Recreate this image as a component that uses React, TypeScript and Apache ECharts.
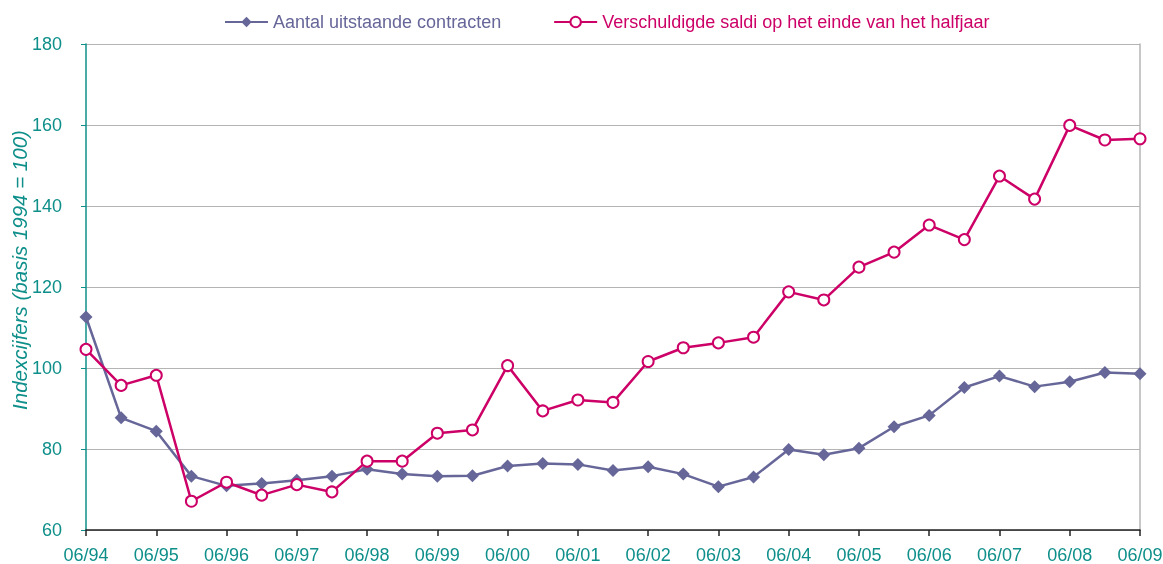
import React, { useEffect, useRef } from "react";
import * as echarts from "echarts";

const categories = [
  "06/94", "12/94", "06/95", "12/95", "06/96", "12/96", "06/97", "12/97",
  "06/98", "12/98", "06/99", "12/99", "06/00", "12/00", "06/01", "12/01",
  "06/02", "12/02", "06/03", "12/03", "06/04", "12/04", "06/05", "12/05",
  "06/06", "12/06", "06/07", "12/07", "06/08", "12/08", "06/09",
];

const contracten = [
  112.6, 87.7, 84.4, 73.3, 70.9, 71.5, 72.3, 73.3, 75.0, 73.8, 73.3, 73.4,
  75.8, 76.4, 76.2, 74.7, 75.6, 73.8, 70.7, 73.1, 79.9, 78.6, 80.2, 85.5,
  88.3, 95.2, 98.0, 95.4, 96.6, 98.9, 98.6,
];

const saldi = [
  104.6, 95.7, 98.2, 67.1, 71.8, 68.6, 71.2, 69.4, 77.0, 77.0, 83.9, 84.7,
  100.6, 89.4, 92.1, 91.5, 101.6, 105.0, 106.2, 107.6, 118.8, 116.8, 124.9,
  128.6, 135.3, 131.7, 147.4, 141.7, 159.9, 156.3, 156.6,
];

const seriesNames = [
  "Aantal uitstaande contracten",
  "Verschuldigde saldi op het einde van het halfjaar",
];

const PURPLE = "#666699";
const MAGENTA = "#cc0066";
const TEAL = "#0e8f8a";
const FONT = "Liberation Sans, Arial, sans-serif";

export default function App() {
  const ref = useRef<HTMLDivElement>(null);
  useEffect(() => {
    if (!ref.current) return;
    const chart = echarts.init(ref.current, undefined, { renderer: "svg" });
    chart.setOption({
      animation: false,
      textStyle: { fontFamily: FONT },
      legend: {
        top: 8,
        left: 219,
        itemWidth: 43,
        itemHeight: 13,
        itemGap: 52,
        textStyle: { fontSize: 18, fontFamily: FONT },
        data: [
          { name: seriesNames[0], textStyle: { color: PURPLE } },
          { name: seriesNames[1], textStyle: { color: MAGENTA } },
        ],
      },
      grid: {
        left: 86,
        right: 23,
        top: 44,
        bottom: 34,
        containLabel: false,
        outerBoundsMode: "none",
      },
      xAxis: {
        type: "category",
        data: categories,
        boundaryGap: false,
        axisLine: { lineStyle: { color: "#222", width: 1.5 } },
        axisTick: { interval: 1, length: 6, lineStyle: { color: "#222", width: 1.5 } },
        axisLabel: {
          interval: 1,
          color: TEAL,
          fontSize: 18,
          fontFamily: FONT,
          margin: 16,
          showMaxLabel: true,
        },
        splitLine: { show: false },
      },
      yAxis: [
        {
          type: "value",
          min: 60,
          max: 180,
          interval: 20,
          name: "Indexcijfers (basis 1994 = 100)",
          nameLocation: "middle",
          nameGap: 57,
          nameMoveOverlap: false,
          nameTextStyle: {
            color: TEAL,
            fontSize: 20.5,
            fontStyle: "italic",
            fontFamily: FONT,
            padding: [0, 0, 0, 34],
          },
          axisLine: { show: true, lineStyle: { color: TEAL, width: 1.5 } },
          axisTick: { show: true, length: 5, lineStyle: { color: TEAL } },
          axisLabel: { color: TEAL, fontSize: 18, fontFamily: FONT, margin: 24 },
          splitLine: { lineStyle: { color: "#b4b4b4", width: 1 } },
        },
        {
          type: "value",
          min: 60,
          max: 180,
          interval: 20,
          position: "right",
          axisLine: { show: true, lineStyle: { color: "#b4b4b4", width: 1.5 } },
          axisTick: { show: false },
          axisLabel: { show: false },
          splitLine: { show: false },
        },
      ],
      series: [
        {
          name: seriesNames[0],
          type: "line",
          data: contracten,
          symbol: "diamond",
          symbolSize: 13,
          lineStyle: { color: PURPLE, width: 2.5 },
          itemStyle: { color: PURPLE },
          z: 2,
        },
        {
          name: seriesNames[1],
          type: "line",
          data: saldi,
          symbol: "circle",
          symbolSize: 11,
          lineStyle: { color: MAGENTA, width: 2.5 },
          itemStyle: { color: "#ffffff", borderColor: MAGENTA, borderWidth: 2 },
          z: 3,
        },
      ],
    });
    return () => chart.dispose();
  }, []);
  return (
    <div
      ref={ref}
      style={{ position: "fixed", left: 0, top: 0, width: 1163, height: 564 }}
    />
  );
}
